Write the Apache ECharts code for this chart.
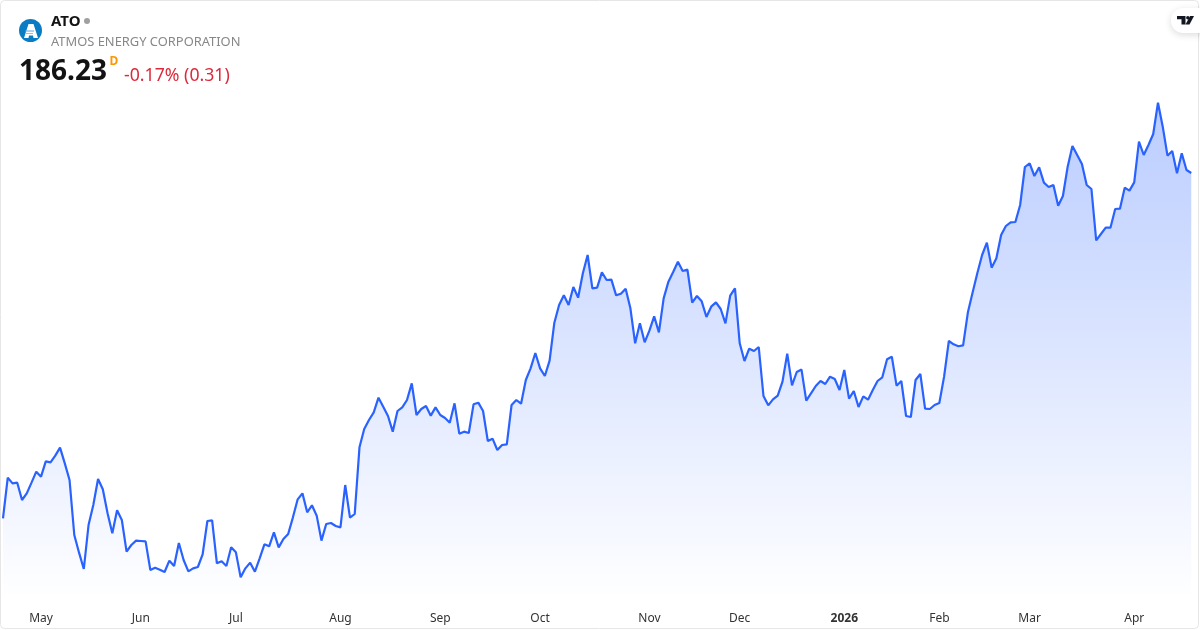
<!DOCTYPE html>
<html>
<head>
<meta charset="utf-8">
<title>ATO</title>
<script src="https://cdn.jsdelivr.net/npm/echarts@6/dist/echarts.min.js"></script>
<style>
    html, body { margin: 0; padding: 0; background: #fff; }
    #chart { width: 1200px; height: 630px; }
</style>
</head>
<body>
<div id="chart"></div>
<script>
    // daily closes
    const closes = [
        155.15, 158.81, 158.30, 158.36, 156.80, 157.40, 158.36, 159.35, 158.90, 160.28,
        160.19, 160.79, 161.51, 160.10, 158.60, 153.65, 152.06, 150.59, 154.55, 156.35,
        158.69, 157.76, 155.60, 153.80, 155.87, 155.00, 152.15, 152.75, 153.14, 153.11,
        153.08, 150.50, 150.71, 150.53, 150.32, 151.34, 150.86, 152.93, 151.40, 150.38,
        150.65, 150.77, 151.91, 154.91, 154.97, 151.10, 151.28, 150.86, 152.54, 152.09,
        149.84, 150.65, 151.16, 150.35, 151.55, 152.81, 152.63, 153.89, 152.54, 153.29,
        153.74, 155.24, 156.86, 157.40, 155.69, 156.32, 155.39, 153.14, 154.64, 154.73,
        154.46, 154.34, 158.15, 155.21, 155.54, 161.54, 163.19, 164.00, 164.69, 166.01,
        165.20, 164.36, 162.95, 164.81, 165.14, 165.80, 167.30, 164.45, 164.99, 165.26,
        164.39, 165.14, 164.45, 164.18, 163.76, 165.50, 162.77, 162.95, 162.83, 165.41,
        165.56, 164.81, 162.11, 162.32, 161.30, 161.75, 161.81, 165.35, 165.80, 165.47,
        167.60, 168.65, 170.03, 168.65, 167.96, 169.34, 172.76, 174.35, 175.22, 174.35,
        175.97, 175.01, 177.20, 178.85, 175.85, 175.91, 177.29, 176.60, 176.63, 175.22,
        175.37, 175.82, 174.05, 170.90, 172.70, 170.99, 172.04, 173.33, 171.89, 174.95,
        176.45, 177.32, 178.25, 177.41, 177.53, 174.56, 175.16, 174.68, 173.27, 174.20,
        174.59, 173.99, 172.70, 175.19, 175.85, 170.90, 169.31, 170.42, 170.21, 170.57,
        166.16, 165.32, 165.86, 166.19, 167.45, 169.97, 167.12, 168.32, 168.54, 165.74,
        166.40, 167.06, 167.51, 167.24, 167.90, 167.69, 166.70, 168.50, 165.92, 166.61,
        165.17, 166.13, 165.83, 166.70, 167.51, 167.84, 169.46, 169.70, 167.09, 167.51,
        164.36, 164.27, 167.60, 168.14, 165.02, 164.99, 165.35, 165.53, 167.90, 171.11,
        170.81, 170.64, 170.72, 173.67, 175.47, 177.23, 178.85, 179.96, 177.71, 178.55,
        180.65, 181.46, 181.79, 181.82, 183.35, 186.77, 187.10, 185.96, 186.74, 185.36,
        184.97, 185.15, 183.29, 184.16, 186.80, 188.66, 187.85, 187.04, 185.15, 184.79,
        180.17, 180.74, 181.31, 181.31, 182.99, 183.02, 184.91, 184.64, 185.39, 189.05,
        187.85, 188.75, 189.74, 192.56, 190.40, 187.79, 188.21, 186.20, 188.00, 186.50,
        186.23
    ];
    const tickLabels = ['May', 'Jun', 'Jul', 'Aug', 'Sep', 'Oct', 'Nov', 'Dec', '2026', 'Feb', 'Mar', 'Apr'];
    const tickIndexes = [8, 29, 49, 71, 92, 113, 136, 155, 177, 197, 216, 238];

    const categories = closes.map(function (v, i) {
        const pos = tickIndexes.indexOf(i);
        return pos >= 0 ? tickLabels[pos] : '';
    });

    const fontName = '"Noto Sans"';

    let chart = echarts.init(document.getElementById('chart'), null, { renderer: 'canvas' });
    let option = {
        animation: false,
        backgroundColor: '#fff',
        grid: {
            top: 0,
            left: 2.5,
            right: 8.75,
            bottom: 30
        },
        xAxis: {
            type: 'category',
            boundaryGap: false,
            data: categories,
            axisLine: { show: false },
            axisTick: { show: false },
            splitLine: { show: false },
            axisLabel: {
                interval: 0,
                hideOverlap: false,
                margin: 13,
                color: '#333',
                fontFamily: fontName,
                fontSize: 12,
                formatter: function (val) {
                    return val === '2026' ? '{b|2026}' : val;
                },
                rich: {
                    b: { fontWeight: 'bold', color: '#333', fontFamily: fontName, fontSize: 12 }
                }
            }
        },
        yAxis: {
            type: 'value',
            show: false,
            min: 147.8,
            max: 201.8,
            splitLine: { show: false }
        },
        series: [{
            type: 'line',
            data: closes,
            showSymbol: false,
            smooth: false,
            lineStyle: { color: '#2962ff', width: 2.2 },
            itemStyle: { color: '#2962ff' },
            areaStyle: {
                origin: 'start',
                opacity: 1,
                color: new echarts.graphic.LinearGradient(0, 0, 0, 1, [
                    { offset: 0, color: 'rgba(41,98,255,0.32)' },
                    { offset: 1, color: 'rgba(41,98,255,0)' }
                ])
            }
        }],
        graphic: [
            // frame
            { type: 'rect', silent: true, shape: { x: 0.5, y: 0.5, width: 1198, height: 628, r: 4 },
              style: { fill: 'none', stroke: '#e6e6e6', lineWidth: 1 } },
            // symbol logo
            { type: 'circle', shape: { cx: 30.5, cy: 30.5, r: 11.5 }, style: { fill: '#0a7cc4' } },
            { type: 'polygon', shape: { points: [[28.5, 24], [33.5, 24], [38, 38], [33.5, 38], [33, 35.5], [29, 35.5], [28.5, 38], [24, 38]] },
              style: { fill: '#fff' } },
            { type: 'line', shape: { x1: 25, y1: 31, x2: 34, y2: 31 }, style: { stroke: '#5aa8dc', lineWidth: 1 } },
            { type: 'line', shape: { x1: 26, y1: 33.5, x2: 33, y2: 33.5 }, style: { stroke: '#8cc3e8', lineWidth: 1 } },
            // header text
            { type: 'text', x: 51, y: 22, style: { text: 'ATO', fill: '#131313', font: 'bold 15px ' + fontName, textVerticalAlign: 'middle' } },
            { type: 'circle', shape: { cx: 87, cy: 21, r: 3 }, style: { fill: '#a0a0a0' } },
            { type: 'text', x: 51, y: 42, style: { text: 'ATMOS ENERGY CORPORATION', fill: '#888', font: '12.9px ' + fontName, textVerticalAlign: 'middle' } },
            { type: 'text', x: 19, y: 72.5, style: { text: '186.23', fill: '#131313', font: 'bold 28px ' + fontName, textVerticalAlign: 'middle' } },
            { type: 'text', x: 109.5, y: 62, style: { text: 'D', fill: '#ff9800', font: 'bold 12px ' + fontName, textVerticalAlign: 'middle' } },
            { type: 'text', x: 124, y: 76, style: { text: '-0.17% (0.31)', fill: '#dc2a3c', font: '17.7px ' + fontName, textVerticalAlign: 'middle' } },
            // tradingview badge
            { type: 'rect', shape: { x: 1171, y: 8, width: 50, height: 25, r: 12 },
              style: { fill: '#fff', shadowBlur: 7, shadowColor: 'rgba(0,0,0,0.14)', shadowOffsetY: 2 } },
            { type: 'polygon', shape: { points: [[1177, 16], [1185.5, 16], [1185.5, 24.5], [1181.5, 24.5], [1181.5, 19.3], [1177, 19.3]] },
              style: { fill: '#131722' } },
            { type: 'circle', shape: { cx: 1187.8, cy: 17.7, r: 1.7 }, style: { fill: '#131722' } },
            { type: 'polygon', shape: { points: [[1190, 16], [1194, 16], [1189.5, 24.5], [1185.5, 24.5]] },
              style: { fill: '#131722' } }
        ]
    };
    chart.setOption(option, true);
    window.addEventListener('resize', function () {
        chart.resize();
    });
</script>
</body>
</html>
